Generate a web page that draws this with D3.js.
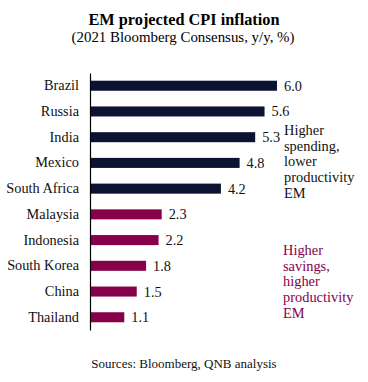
<!DOCTYPE html>
<html><head><meta charset="utf-8">
<script src="https://cdn.jsdelivr.net/npm/d3@7"></script>
<style>body{margin:0;background:#fff}</style>
</head><body>
<svg id="c" width="368" height="382"></svg>
<script>
const categories = ["Brazil","Russia","India","Mexico","South Africa","Malaysia","Indonesia","South Korea","China","Thailand"];
const values = [6.0,5.6,5.3,4.8,4.2,2.3,2.2,1.8,1.5,1.1];
const groups = ["high","high","high","high","high","low","low","low","low","low"];
const groupColors = {high:"#0b1232", low:"#86004c"};
const noteHigh = ["Higher","spending,","lower","productivity","EM"];
const noteLow = ["Higher","savings,","higher","productivity","EM"];

const svg = d3.select("#c");
const font = "'Liberation Serif','Times New Roman',serif";
const x = d3.scaleLinear().domain([0,6]).range([90,277]);
const y = d3.scaleBand().domain(categories).range([73,330]).paddingInner(0.61).paddingOuter(0.3);

svg.append("text").attr("x",184).attr("y",25).attr("text-anchor","middle")
  .attr("font-family",font).attr("font-weight","bold").attr("font-size",16.3).text("EM projected CPI inflation");
svg.append("text").attr("x",183).attr("y",42).attr("text-anchor","middle")
  .attr("font-family",font).attr("font-size",14.9).text("(2021 Bloomberg Consensus, y/y, %)");

const data = categories.map((c,i)=>({c,v:values[i],g:groups[i]}));
svg.selectAll("rect.bar").data(data).join("rect").attr("class","bar")
  .attr("x",x(0)).attr("y",d=>y(d.c)).attr("width",d=>x(d.v)-x(0)).attr("height",y.bandwidth())
  .attr("fill",d=>groupColors[d.g]);

svg.selectAll("text.val").data(data).join("text").attr("class","val")
  .attr("x",d=>x(d.v)+7).attr("y",d=>y(d.c)+y.bandwidth()/2).attr("dy","0.35em")
  .attr("font-family",font).attr("font-size",14.3).attr("fill","#111").text(d=>d.v.toFixed(1));

const yAxis = d3.axisLeft(y).tickSize(0).tickPadding(11);
const ag = svg.append("g").attr("transform",`translate(${x(0)},0)`).call(yAxis);
ag.select(".domain").attr("stroke","#000").attr("stroke-width",1.2);
ag.selectAll("text").attr("font-family",font).attr("font-size",14.3).attr("fill","#111");

function note(lines, x0, y0, color){
  const t = svg.append("text").attr("font-family",font).attr("font-size",14.4).attr("fill",color);
  lines.forEach((l,i)=>t.append("tspan").attr("x",x0).attr("y",y0+i*15.7).text(l));
}
note(noteHigh, 284, 135, "#111");
note(noteLow, 283, 255, "#86004c");

svg.append("text").attr("x",184).attr("y",368).attr("text-anchor","middle")
  .attr("font-family",font).attr("font-size",13).attr("fill","#111").text("Sources: Bloomberg, QNB analysis");
</script>
</body></html>
